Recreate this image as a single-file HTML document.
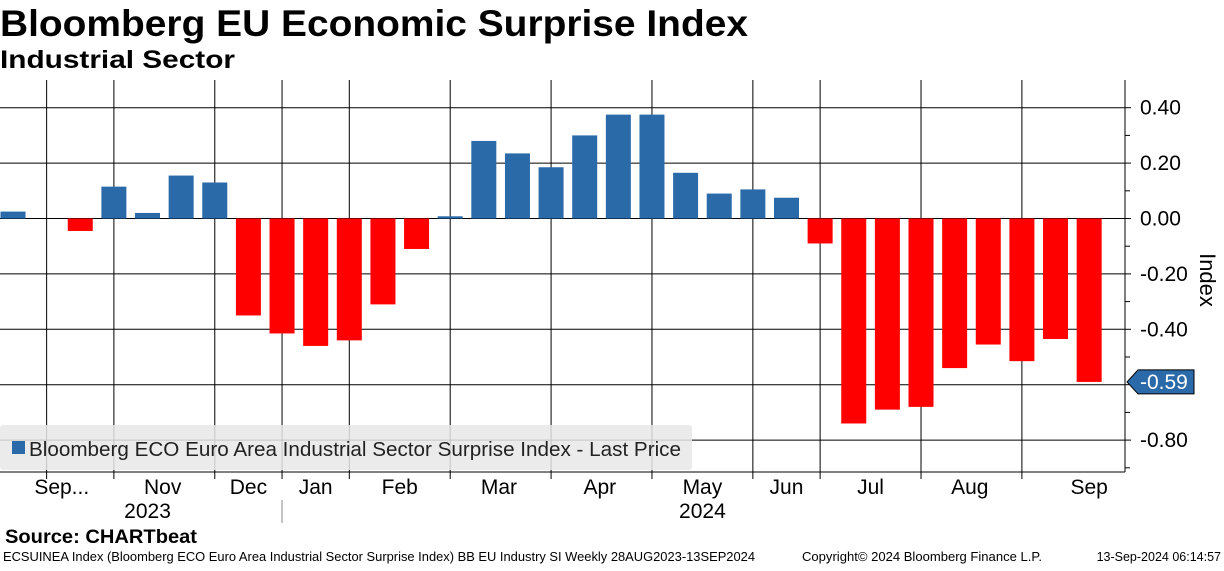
<!DOCTYPE html>
<html><head><meta charset="utf-8"><style>
body{margin:0;width:1224px;height:566px;overflow:hidden;background:#fff;font-family:"Liberation Sans",sans-serif;}
text{font-family:"Liberation Sans",sans-serif;}
</style></head><body>
<svg id="chart" width="1224" height="566">
<text x="0" y="36" font-size="37" font-weight="bold" textLength="748" lengthAdjust="spacingAndGlyphs">Bloomberg EU Economic Surprise Index</text>
<text x="0" y="68" font-size="25" font-weight="bold" textLength="235" lengthAdjust="spacingAndGlyphs">Industrial Sector</text>
<g id="grid"></g><g id="bars"></g><g id="axis"></g>
<rect x="0" y="425" width="692" height="45" fill="#e8e8e8" fill-opacity="0.85" rx="3"/>
<rect x="12" y="441" width="13" height="13" fill="#2b6aa8"/>
<text x="29" y="456" font-size="20" fill="#222" textLength="652" lengthAdjust="spacingAndGlyphs">Bloomberg ECO Euro Area Industrial Sector Surprise Index - Last Price</text>
<text x="1200" y="280" font-size="22" transform="rotate(90 1200 280)" text-anchor="middle">Index</text>
<text x="5" y="543" font-size="19" font-weight="bold" textLength="192" lengthAdjust="spacingAndGlyphs">Source: CHARTbeat</text>
<text x="3" y="561" font-size="12.5" textLength="752" lengthAdjust="spacingAndGlyphs">ECSUINEA Index (Bloomberg ECO Euro Area Industrial Sector Surprise Index) BB EU Industry SI  Weekly 28AUG2023-13SEP2024</text>
<text x="802" y="561" font-size="12.5" textLength="240" lengthAdjust="spacingAndGlyphs">Copyright© 2024 Bloomberg Finance L.P.</text>
<text x="1221" y="561" font-size="12.5" text-anchor="end">13-Sep-2024 06:14:57</text>
</svg>
<script>
const values=[0.025,0,-0.045,0.115,0.02,0.155,0.13,-0.35,-0.415,-0.46,-0.44,-0.31,-0.11,0.008,0.28,0.235,0.185,0.30,0.375,0.375,0.165,0.09,0.105,0.075,-0.09,-0.74,-0.69,-0.68,-0.54,-0.455,-0.515,-0.435,-0.59];
const yTicks=[0.4,0.2,0,-0.2,-0.4,-0.6,-0.8];
const yTickLabels=["0.40","0.20","0.00","-0.20","-0.40","-0.60","-0.80"];
const monthLabels=["Sep...","Nov","Dec","Jan","Feb","Mar","Apr","May","Jun","Jul","Aug","Sep"];
const monthPos=[1.45,4.45,7,9,11.5,14.45,17.45,20.5,23,25.5,28.45,32];
const vGrid=[1,3,6,8,10,13,16,19,22,24,27,30];
const years=[{t:"2023",p:4},{t:"2024",p:20.5}];
const last=values[values.length-1];
const NS="http://www.w3.org/2000/svg";
const X0=13,DX=33.63,BW=25,PL=0,PR=1125,PT=80,PB=472;
const y=v=>218.5-v*277;
const x=i=>X0+i*DX;
function mk(tag,attrs,parent){const e=document.createElementNS(NS,tag);for(const k in attrs)e.setAttribute(k,attrs[k]);document.getElementById(parent).appendChild(e);return e;}
yTicks.forEach((t,i)=>{
 const l=mk('line',{x1:PL,x2:PR,y1:y(t),y2:y(t),stroke:'#000','stroke-width':1},'grid');
 
 
 const tk=mk('line',{x1:PR,x2:PR+6,y1:y(t),y2:y(t),stroke:'#000'},'axis');
 
 
 if(Math.abs(t-(-0.6))>1e-6||Math.abs(last-t)>0.05){
 const tx=mk('text',{x:PR+15,y:y(t)+7,'font-size':21},'axis');tx.textContent=yTickLabels[i];
 
 }
 const m=mk('line',{x1:PR,x2:PR+5,y1:y(t-0.1),y2:y(t-0.1),stroke:'#000'},'axis');
 
 
});
vGrid.forEach(g=>{const l=mk('line',{x1:x(g),x2:x(g),y1:PT,y2:PB+7,stroke:'#000'},'grid');
 
 });
values.forEach((v,i)=>{
 const r=mk('rect',{x:x(i)-BW/2,width:BW,y:Math.min(y(v),y(0)),height:Math.abs(y(v)-y(0)),fill:v>=0?'#2b6aa8':'#ff0000'},'bars');
 
 
});
mk('line',{x1:PR,x2:PR,y1:PT,y2:PB,stroke:'#000'},'axis');
mk('line',{x1:PL,x2:PR,y1:PB,y2:PB,stroke:'#000'},'axis');
monthLabels.forEach((m,i)=>{const t=mk('text',{x:x(monthPos[i]),y:494,'font-size':21,'text-anchor':'middle'},'axis');t.textContent=m;
 
 });
years.forEach(o=>{const t=mk('text',{x:x(o.p),y:518,'font-size':21,'text-anchor':'middle'},'axis');t.textContent=o.t;
 
 });
const sep=mk('line',{x1:282,x2:282,y1:500,y2:523,stroke:'#888'},'axis');


const ly=y(last);
const tag=mk('path',{d:`M1127 ${ly} L1138 ${ly-12} L1194 ${ly-12} L1194 ${ly+12} L1138 ${ly+12} Z`,fill:'#2b6aa8',stroke:'#000','stroke-width':1},'axis');


const lt=mk('text',{x:1140,y:ly+7,'font-size':21,fill:'#fff'},'axis');lt.textContent=last.toFixed(2);


</script>
</body></html>
